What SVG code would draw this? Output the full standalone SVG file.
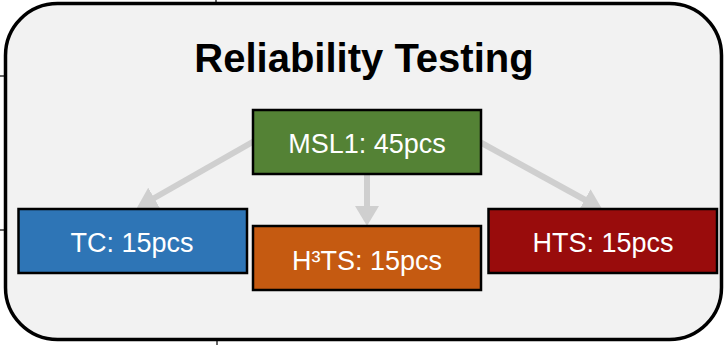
<svg xmlns="http://www.w3.org/2000/svg" width="725" height="345" viewBox="0 0 725 345">
  <style>
    .frame { fill: #f2f2f2; stroke: #000; stroke-width: 3.5; }
    .box { stroke: #000; stroke-width: 2.5; }
    .lbl { font-family: "Liberation Sans", Arial, sans-serif; font-size: 27px; fill: #fff; text-anchor: middle; }
    .title { font-family: "Liberation Sans", Arial, sans-serif; font-size: 40px; font-weight: bold; fill: #000; text-anchor: middle; }
    .conn { stroke: #cfcfcf; stroke-width: 6; fill: none; marker-end: url(#ah); }
    .edge { stroke: #333; stroke-width: 1.5; }
  </style>
  <defs>
    <marker id="ah" markerUnits="userSpaceOnUse" viewBox="0 0 20 24" markerWidth="20" markerHeight="24" refX="10" refY="12" orient="auto">
      <path d="M0,0 L20,12 L0,24 z" fill="#cfcfcf"/>
    </marker>
  </defs>
  <rect width="725" height="345" fill="#fff"/>
  <g id="grid-fragments">
    <line class="edge" x1="216" y1="0" x2="216" y2="4"/>
    <line class="edge" x1="0" y1="76" x2="5" y2="76"/>
    <line class="edge" x1="0" y1="230" x2="5" y2="230"/>
    <line class="edge" x1="217" y1="340" x2="217" y2="345"/>
  </g>
  <g id="frame">
    <rect class="frame" x="5.5" y="3.5" width="716" height="336" rx="52" ry="52"/>
    <text class="title" x="364" y="72">Reliability Testing</text>
  </g>
  <g id="connectors">
    <line class="conn" x1="256" y1="140" x2="145.5" y2="203"/>
    <line class="conn" x1="367" y1="174" x2="367" y2="216"/>
    <line class="conn" x1="478" y1="141" x2="593.5" y2="204.5"/>
  </g>
  <g id="msl1">
    <rect class="box" x="253" y="110" width="228" height="64" fill="#548235"/>
    <text class="lbl" x="367" y="153">MSL1: 45pcs</text>
  </g>
  <g id="tc">
    <rect class="box" x="18.5" y="209" width="228.5" height="64" fill="#2e75b6"/>
    <text class="lbl" x="132" y="252">TC: 15pcs</text>
  </g>
  <g id="h3ts">
    <rect class="box" x="253" y="226" width="228" height="64" fill="#c55a11"/>
    <text class="lbl" x="367" y="270">H³TS: 15pcs</text>
  </g>
  <g id="hts">
    <rect class="box" x="488.5" y="209" width="228.5" height="64" fill="#990c0c"/>
    <text class="lbl" x="603" y="252">HTS: 15pcs</text>
  </g>
</svg>
